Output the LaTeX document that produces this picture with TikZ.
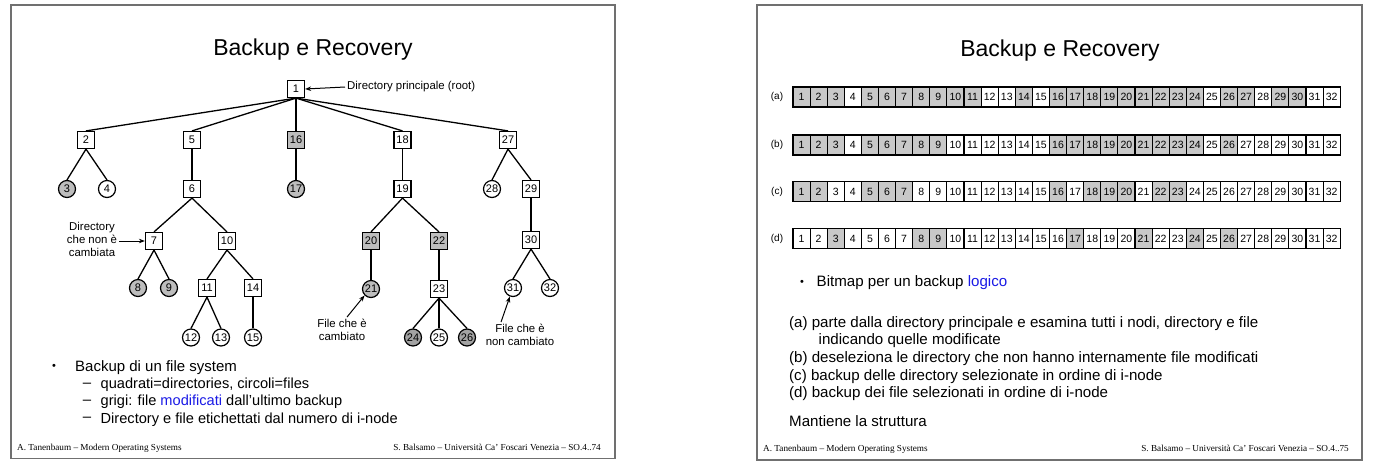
\documentclass[tikz,border=0pt]{standalone}
\usepackage{fontspec}
\setmainfont{Liberation Sans}
\newfontfamily\footfont{Liberation Serif}
\usetikzlibrary{arrows.meta}
\definecolor{cellgray}{HTML}{C8C8C8}
\definecolor{modgray}{HTML}{BDBDBD}
\definecolor{darkmod}{HTML}{A3A3A3}
\definecolor{framecol}{HTML}{707070}
\definecolor{linkblue}{HTML}{1A1AE6}
\begin{document}
\begin{tikzpicture}[x=1pt,y=-1pt,
  dirbox/.style={draw, line width=1.2pt, minimum width=17pt, minimum height=17pt, inner sep=0pt, fill=white, font=\fontsize{11}{12}\selectfont},
  filecirc/.style={draw, circle, line width=1.2pt, minimum size=17pt, inner sep=0pt, fill=white, font=\fontsize{11}{12}\selectfont},
  mod/.style={fill=modgray},
  dmod/.style={fill=darkmod},
  edge/.style={line width=1.3pt},
  note/.style={font=\fontsize{11.4}{13}\selectfont, align=center, inner sep=2pt},
  pointer/.style={line width=1pt, -{Stealth[length=6pt,width=4.5pt]}},
  cell/.style={draw, line width=1.1pt, minimum width=17.1pt, minimum height=20pt, inner sep=0pt, font=\fontsize{10.5}{12}\selectfont},
  bodytext/.style={anchor=west, inner sep=0pt, font=\fontsize{15}{18}\selectfont},
  subtext/.style={anchor=west, inner sep=0pt, font=\fontsize{14.6}{17}\selectfont},
  rtext/.style={anchor=west, inner sep=0pt, font=\fontsize{15.1}{18}\selectfont},
  foot/.style={inner sep=0pt, font=\footfont\fontsize{9.2}{11}\selectfont},
  slidetitle/.style={inner sep=0pt, font=\fontsize{23}{27}\selectfont},
  slideframe/.style={draw=framecol, line width=1.2pt}
]
\useasboundingbox (0,0) rectangle (1381,467);
\fill[white] (0,0) rectangle (1381,467);

% ---------------- left slide ----------------
\draw[slideframe] (11,5) rectangle (615,458.5);
\node[slidetitle] (ltitle) at (313,50) {Backup e Recovery};

\node[dirbox] (n1) at (296,89) {1};
\node[dirbox] (n2) at (86,140) {2};
\node[dirbox] (n5) at (192,140) {5};
\node[dirbox,mod] (n16) at (296,140) {16};
\node[dirbox] (n18) at (402.5,140) {18};
\node[dirbox] (n27) at (508,140) {27};
\node[filecirc,mod] (n3) at (67,189) {3};
\node[filecirc] (n4) at (107,189) {4};
\node[dirbox] (n6) at (192,189) {6};
\node[filecirc,mod] (n17) at (296,189) {17};
\node[dirbox] (n19) at (402.5,189) {19};
\node[filecirc] (n28) at (492,189) {28};
\node[dirbox] (n29) at (531,189) {29};
\node[dirbox] (n7) at (154,241) {7};
\node[dirbox] (n10) at (227,241) {10};
\node[dirbox,mod] (n20) at (371,241) {20};
\node[dirbox,mod] (n22) at (439,241) {22};
\node[dirbox] (n30) at (531,240) {30};
\node[filecirc,mod] (n8) at (138,288) {8};
\node[filecirc,mod] (n9) at (169,288) {9};
\node[dirbox] (n11) at (207,288) {11};
\node[dirbox] (n14) at (253,288) {14};
\node[filecirc,mod] (n21) at (371,289) {21};
\node[dirbox] (n23) at (439,289) {23};
\node[filecirc] (n31) at (513,288) {31};
\node[filecirc] (n32) at (550,288) {32};
\node[filecirc] (n12) at (191,337.5) {12};
\node[filecirc] (n13) at (221,337.5) {13};
\node[filecirc] (n15) at (253,337.5) {15};
\node[filecirc,dmod] (n24) at (413,337.5) {24};
\node[filecirc] (n25) at (439,337.5) {25};
\node[filecirc,dmod] (n26) at (467,337.5) {26};

\foreach \p/\c in {1/2,1/5,1/16,1/18,1/27,2/3,2/4,5/6,16/17,18/19,27/28,27/29,
  6/7,6/10,19/20,19/22,29/30,7/8,7/9,10/11,10/14,20/21,22/23,30/31,30/32,
  11/12,11/13,14/15,23/24,23/25,23/26}
  \draw[edge] (n\p.south) -- (n\c.north);

\node[note, anchor=west] (rootlbl) at (345,87) {Directory principale (root)};
\draw[pointer] (rootlbl.west) -- (n1.east);
\node[note] (dirlbl) at (92,239) {Directory\\che non è\\cambiata};
\draw[pointer] (dirlbl.east |- n7.west) -- (n7.west);
\node[note] (chglbl) at (342,330) {File che è\\cambiato};
\draw[pointer] ([xshift=5pt]chglbl.north) -- (n21.225);
\node[note] (unchlbl) at (520,335) {File che è\\non cambiato};
\draw[pointer] ([xshift=-19pt]unchlbl.north) -- (n31.250);

\node[inner sep=0pt, font=\fontsize{11}{13}\selectfont] (lb1) at (54,367.3) {•};
\node[bodytext] (lt1) at (75,367.3) {Backup di un file system};
\node[inner sep=0pt, font=\fontsize{15}{18}\selectfont] (ld1) at (87,385) {–};
\node[subtext] (lt2) at (100.5,385) {quadrati=directories, circoli=files};
\node[inner sep=0pt, font=\fontsize{15}{18}\selectfont] (ld2) at (87,402) {–};
\node[subtext] (lt3) at (100.5,402) {grigi: file \textcolor{linkblue}{modificati} dall’ultimo backup};
\node[inner sep=0pt, font=\fontsize{15}{18}\selectfont] (ld3) at (87,419.5) {–};
\node[subtext] (lt4) at (100.5,419.5) {Directory e file etichettati dal numero di i-node};

\node[foot, anchor=west] (lf1) at (17,448.3) {A. Tanenbaum – Modern Operating Systems};
\node[foot, anchor=east] (lf2) at (601,447.5) {S. Balsamo – Università Ca’ Foscari Venezia – SO.4..74};

% ---------------- right slide ----------------
\draw[slideframe] (757,5) rectangle (1362,460);
\node[slidetitle] (rtitle) at (1060,51) {Backup e Recovery};

\foreach \r/\yy/\grays in {a/97/{1,2,3,5,6,7,8,9,10,11,14,16,17,18,19,20,21,22,23,24,26,27,29,30},
                          b/145/{1,2,3,5,6,7,8,9,16,17,18,19,20,21,22,23,24,26},
                          c/191.5/{1,2,5,6,7,16,18,19,20,22,23},
                          d/238.5/{3,8,9,17,21,24,26}} {
  \node[font=\fontsize{10}{12}\selectfont, inner sep=0pt] (lbl\r) at (777,\yy) {(\r)};
  \foreach \i in {1,...,32} {
    \gdef\cellfill{white}
    \foreach \g in \grays {\ifnum\g=\i\relax\gdef\cellfill{cellgray}\fi}
    \node[cell, fill=\cellfill] (\r\i) at ({793+17.1*(\i-0.5)},\yy) {\i};
  }
}

\node[inner sep=0pt, font=\fontsize{11}{13}\selectfont] (rb1) at (802,283) {•};
\node[rtext] (rt1) at (816.5,283) {Bitmap per un backup \textcolor{linkblue}{logico}};
\node[rtext] (rt2) at (789,323.5) {(a) parte dalla directory principale e esamina tutti i nodi, directory e file};
\node[rtext] (rt3) at (818.5,341) {indicando quelle modificate};
\node[rtext] (rt4) at (789,358.5) {(b) deseleziona le directory che non hanno internamente file modificati};
\node[rtext] (rt5) at (789,376.5) {(c) backup delle directory selezionate in ordine di i-node};
\node[rtext] (rt6) at (789,394) {(d) backup dei file selezionati in ordine di i-node};
\node[rtext] (rt7) at (789,421) {Mantiene la struttura};

\node[foot, anchor=west] (rf1) at (763,449.5) {A. Tanenbaum – Modern Operating Systems};
\node[foot, anchor=east] (rf2) at (1349,448.5) {S. Balsamo – Università Ca’ Foscari Venezia – SO.4..75};
\end{tikzpicture}
\end{document}
